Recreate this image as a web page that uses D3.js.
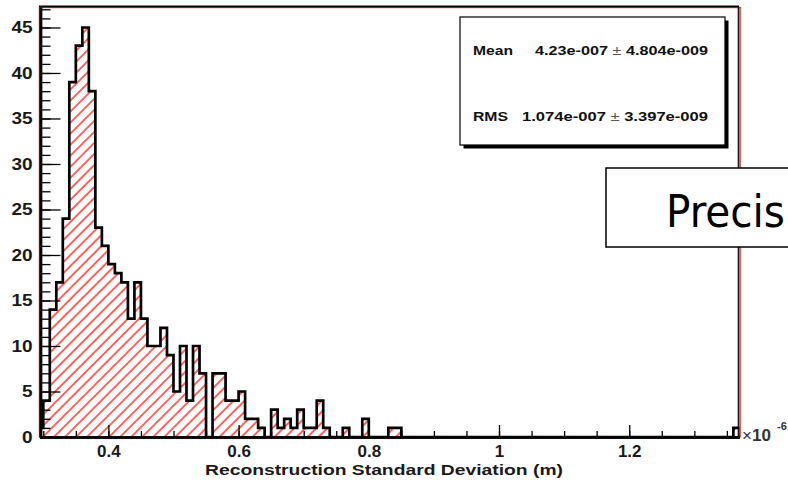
<!DOCTYPE html>
<html>
<head>
<meta charset="utf-8">
<script src="https://cdn.jsdelivr.net/npm/d3@7"></script>
<style>
body { margin: 0; background: #fff; overflow: hidden; }
svg { display: block; }
</style>
</head>
<body>
<script>
// histogram contents (entries per bin), bins of 0.01 (x1e-6 m) starting at 0.29
var binStart = 0.29;
var binWidth = 0.01;
var counts = [
  1, 4, 14, 17, 24, 39, 43, 45, 38, 23,
  21, 19, 18, 17, 13, 17, 13, 10, 10, 12,
  9, 5, 10, 4, 10, 7, 0, 7, 7, 4,
  4, 5, 2, 2, 1, 0, 3, 1, 2, 1,
  3, 1, 1, 4, 1, 0, 0, 1, 0, 0,
  2, 0, 0, 0, 1, 1, 0, 0, 0, 0,
  0, 0, 0, 0, 0, 0, 0, 0, 0, 0,
  0, 0, 0, 0, 0, 0, 0, 0, 0, 0,
  0, 0, 0, 0, 0, 0, 0, 0, 0, 0,
  0, 0, 0, 0, 0, 0, 0, 0, 0, 0,
  0, 0, 0, 0, 0, 0, 0, 1
];

var yTicks = [0, 5, 10, 15, 20, 25, 30, 35, 40, 45];
var yMinorTicks = [0,1,2,3,4,5,6,7,8,9,10,11,12,13,14,15,16,17,18,19,20,21,22,23,24,25,26,27,28,29,30,31,32,33,34,35,36,37,38,39,40,41,42,43,44,45,46,47];
var xTicks = [0.4, 0.6, 0.8, 1, 1.2];
var xMinorTicks = [0.3, 0.35, 0.4, 0.45, 0.5, 0.55, 0.6, 0.65, 0.7, 0.75, 0.8, 0.85, 0.9, 0.95, 1, 1.05, 1.1, 1.15, 1.2, 1.25, 1.3, 1.35];

var statNames = ["Mean", "RMS"];
var statValues = ["4.23e-007", "1.074e-007"];
var statErrors = ["4.804e-009", "3.397e-009"];

var xTitle = "Reconstruction Standard Deviation (m)";
var slideText = "Precis";

var W = 788, H = 484;
var svg = d3.select("body").append("svg").attr("width", W).attr("height", H);

var x = d3.scaleLinear().domain([0.2942, 1.3694]).range([39.5, 739.5]);
var y = d3.scaleLinear().domain([0, 47.25]).range([437, 7]);

var defs = svg.append("defs");
// red hatching like ROOT fill style 3004
defs.append("pattern").attr("id", "hatch")
  .attr("patternUnits", "userSpaceOnUse")
  .attr("width", 7.8).attr("height", 7.8)
  .attr("patternTransform", "rotate(45)")
  .append("line")
  .attr("x1", 3.9).attr("y1", 0).attr("x2", 3.9).attr("y2", 7.8)
  .attr("stroke", "#ff1010").attr("stroke-width", 1.3);
defs.append("clipPath").attr("id", "frameClip")
  .append("rect").attr("x", 39.5).attr("y", 7).attr("width", 700).attr("height", 430);

// the step outline of the histogram
var pts = [[binStart, 0]];
counts.forEach(function(c, i) {
  var lo = binStart + i * binWidth;
  pts.push([lo, c], [lo + binWidth, c]);
});
pts.push([binStart + counts.length * binWidth, 0]);

var line = d3.line().x(function(d) { return x(d[0]); }).y(function(d) { return y(d[1]); });

var plot = svg.append("g").attr("clip-path", "url(#frameClip)");
plot.append("path").attr("d", line(pts)).attr("fill", "url(#hatch)").attr("stroke", "none");
plot.append("path").attr("d", line(pts)).attr("fill", "none")
  .attr("stroke", "#000").attr("stroke-width", 2.7).attr("stroke-linejoin", "miter");

// frame (red, with the black edge beside it)
svg.append("rect").attr("x", 39.5).attr("y", 7.5).attr("width", 700.5).attr("height", 429.5)
  .attr("fill", "none").attr("stroke", "#e00000").attr("stroke-width", 1.3);
svg.append("line").attr("x1", 39).attr("x2", 739).attr("y1", 6.3).attr("y2", 6.3)
  .attr("stroke", "#000").attr("stroke-width", 1.4);
svg.append("line").attr("x1", 738.3).attr("x2", 738.3).attr("y1", 6).attr("y2", 437)
  .attr("stroke", "#000").attr("stroke-width", 1.2);

var font = "'Liberation Sans', Arial, Helvetica, sans-serif";

// y axis, ticks pointing into the frame
var yMinor = svg.append("g").attr("transform", "translate(40.5,0)")
  .call(d3.axisLeft(y).tickValues(yMinorTicks).tickSizeInner(-10).tickSizeOuter(0).tickFormat(""));
var yAxis = svg.append("g").attr("transform", "translate(40.5,0)")
  .call(d3.axisLeft(y).tickValues(yTicks).tickSizeInner(-20).tickSizeOuter(0).tickPadding(7).tickFormat(d3.format("d")));
yAxis.selectAll("text").attr("font-family", font).attr("font-weight", "bold").attr("font-size", 17)
  .attr("fill", "#1a1a1a").attr("transform", "scale(1.12,1)");

// x axis
var xMinor = svg.append("g").attr("transform", "translate(0,437)")
  .call(d3.axisBottom(x).tickValues(xMinorTicks).tickSizeInner(-6).tickSizeOuter(0).tickFormat(""));
var xAxis = svg.append("g").attr("transform", "translate(0,437)")
  .call(d3.axisBottom(x).tickValues(xTicks).tickSizeInner(-12).tickSizeOuter(0).tickPadding(8)
    .tickFormat(function(d) { return String(+d.toFixed(1)); }));
xAxis.selectAll("text").attr("font-family", font).attr("font-weight", "bold").attr("font-size", 17).attr("fill", "#1a1a1a");

svg.selectAll(".domain").attr("stroke", "#000").attr("stroke-width", 2.4);
svg.selectAll(".tick line").attr("stroke", "#000").attr("stroke-width", 1.3);

svg.append("text").attr("x", 384).attr("y", 475).attr("text-anchor", "middle")
  .attr("font-family", font).attr("font-weight", "bold").attr("font-size", 14.5)
  .attr("textLength", 358).attr("lengthAdjust", "spacingAndGlyphs")
  .attr("fill", "#1a1a1a").text(xTitle);

// x10^-6 exponent
var expo = svg.append("text").attr("x", 742).attr("y", 441)
  .attr("font-family", font).attr("font-size", 17).attr("fill", "#333");
expo.append("tspan").text("\u00d7");
expo.append("tspan").attr("font-weight", "bold").text("10");
svg.append("text").attr("x", 777).attr("y", 430).attr("font-family", font)
  .attr("font-weight", "bold").attr("font-size", 11).attr("fill", "#333").text("-6");

// statistics box
svg.append("rect").attr("x", 463.5).attr("y", 20.5).attr("width", 265).attr("height", 128).attr("fill", "#000");
svg.append("rect").attr("x", 460).attr("y", 17).attr("width", 265).attr("height", 128)
  .attr("fill", "#fff").attr("stroke", "#000").attr("stroke-width", 1.2);

var statY = [55, 121];
var nameWidths = [40, 35];
var statWidths = [173, 186];
statNames.forEach(function(name, i) {
  svg.append("text").attr("x", 473).attr("y", statY[i])
    .attr("font-family", font).attr("font-weight", "bold").attr("font-size", 13.5).attr("fill", "#111")
    .attr("textLength", nameWidths[i]).attr("lengthAdjust", "spacingAndGlyphs")
    .text(name);
  var t = svg.append("text").attr("x", 708).attr("y", statY[i]).attr("text-anchor", "end")
    .attr("font-family", font).attr("font-weight", "bold").attr("font-size", 13.5).attr("fill", "#111")
    .attr("textLength", statWidths[i]).attr("lengthAdjust", "spacingAndGlyphs");
  t.append("tspan").text(statValues[i] + " ");
  t.append("tspan").attr("font-weight", "normal").attr("fill", "#555").text("\u00b1");
  t.append("tspan").text(" " + statErrors[i]);
});

// slide text box that sits over the right edge of the plot
svg.append("rect").attr("x", 606).attr("y", 168).attr("width", 200).attr("height", 79)
  .attr("fill", "#fff").attr("stroke", "#000").attr("stroke-width", 1.5);
svg.append("text").attr("x", 666).attr("y", 227)
  .attr("font-family", "'DejaVu Sans Condensed', 'DejaVu Sans', Verdana, sans-serif")
  .attr("font-size", 44).attr("fill", "#000")
  .attr("textLength", 119).attr("lengthAdjust", "spacingAndGlyphs")
  .text(slideText);
</script>
</body>
</html>
